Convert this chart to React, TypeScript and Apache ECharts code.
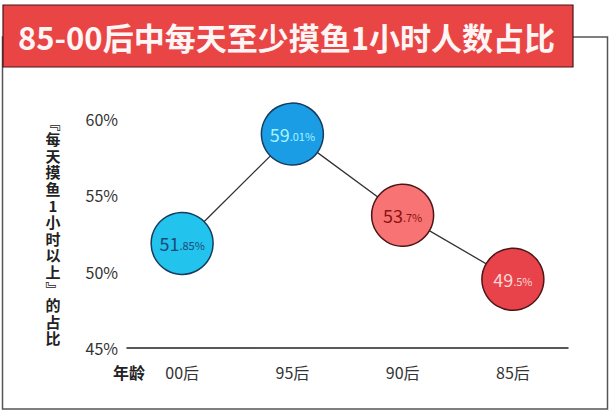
import * as echarts from "echarts"
import { useEffect, useRef } from "react"

const TITLE = "85-00后中每天至少摸鱼1小时人数占比"
const Y_NAME = "﹃每天摸鱼1小时以上﹄的占比"
const X_NAME = "年龄"

const categories = ["00后", "95后", "90后", "85后"]
const values = [51.85, 59.01, 53.7, 49.5]
const fillColors = ["#22c3ec", "#1a9de4", "#f87373", "#e8424a"]
const borderColors = ["#163d5e", "#163d5e", "#4c1616", "#4c1616"]
const labelColors = ["#1c4a78", "#a6f2ff", "#8c1414", "#ffd6d6"]

const FONT = "'Noto Sans CJK SC', 'Noto Sans', sans-serif"

export default function App() {
  const ref = useRef<HTMLDivElement>(null)

  useEffect(() => {
    document.body.style.margin = "0"
    if (!ref.current) return
    const chart = echarts.init(ref.current, null, { renderer: "svg" })

    // vertical axis name, one glyph per text
    const yNameChars = Y_NAME.split("").map((ch, i) => ({
      type: "text",
      x: 53,
      y: 122 + i * 16.6,
      style: {
        text: ch,
        fill: "#222",
        font: `bold 15px ${FONT}`,
        textAlign: "center",
        textVerticalAlign: "middle",
      },
    }))

    chart.setOption({
      animation: false,
      backgroundColor: "#ffffff",
      textStyle: { fontFamily: FONT },
      grid: { top: 119, bottom: 415 - 348, left: 127, right: 47 },
      xAxis: {
        type: "category",
        data: categories,
        boundaryGap: true,
        axisLine: { lineStyle: { color: "#222", width: 1.5 } },
        axisTick: { show: false },
        axisLabel: { color: "#333", fontSize: 16, margin: 16 },
      },
      yAxis: {
        type: "value",
        min: 45,
        max: 60,
        interval: 5,
        axisLine: { show: false },
        axisTick: { show: false },
        splitLine: { show: false },
        axisLabel: { color: "#333", fontSize: 16, margin: 9, formatter: "{value}%" },
      },
      graphic: [
        {
          type: "rect",
          shape: { x: 2.5, y: 37, width: 605, height: 372 },
          style: { fill: "none", stroke: "#555", lineWidth: 1.5 },
          z: 1,
        },
        {
          type: "rect",
          shape: { x: 3, y: 5, width: 570, height: 62 },
          style: { fill: "#e94545", stroke: "#4a1414", lineWidth: 1.2 },
          z: 2,
        },
        {
          type: "text",
          x: 18,
          y: 36,
          style: {
            text: TITLE,
            fill: "#fff5f5",
            font: `bold 31px ${FONT}`,
            textAlign: "left",
            textVerticalAlign: "middle",
          },
          z: 3,
        },
        ...yNameChars,
        {
          type: "text",
          x: 129,
          y: 372,
          style: {
            text: X_NAME,
            fill: "#222",
            font: `bold 16px ${FONT}`,
            textAlign: "center",
            textVerticalAlign: "middle",
          },
        },
      ],
      series: [
        {
          type: "line",
          data: values.map((v, i) => ({
            value: v,
            itemStyle: { color: fillColors[i], borderColor: borderColors[i] },
            label: {
              rich: {
                a: { fontSize: 18, color: labelColors[i], fontFamily: FONT },
                b: { fontSize: 11, color: labelColors[i], fontFamily: FONT, padding: [4, 0, 0, 0] },
              },
            },
          })),
          symbol: "circle",
          symbolSize: 62,
          lineStyle: { color: "#333", width: 1.3 },
          itemStyle: { borderWidth: 1.5, opacity: 1 },
          label: {
            show: true,
            position: "inside",
            formatter: (p: { value: number }) => {
              const s = String(p.value)
              const [int, dec] = s.split(".")
              return `{a|${int}}{b|${dec ? "." + dec : ""}%}`
            },
          },
          z: 5,
        },
      ],
    })

    return () => chart.dispose()
  }, [])

  return <div ref={ref} style={{ width: 615, height: 415 }} />
}
